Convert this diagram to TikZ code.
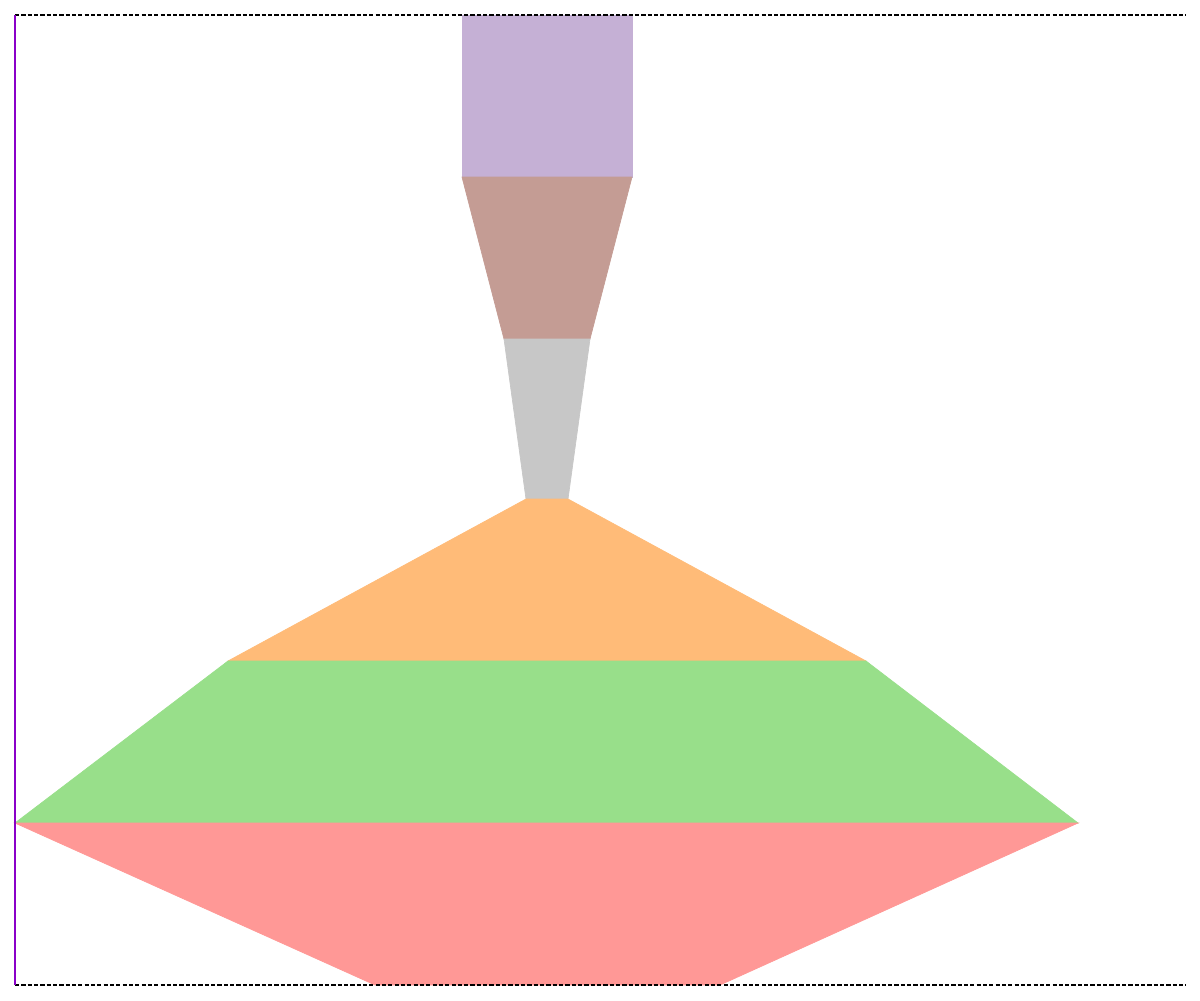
\documentclass[tikz,border=0pt]{standalone}
\usepackage{xcolor}
\usepackage{tikz}
\usetikzlibrary{calc}

\definecolor{lvpurple}{HTML}{C5B0D5}
\definecolor{lvbrown}{HTML}{C49C94}
\definecolor{lvgrey}{HTML}{C7C7C7}
\definecolor{lvorange}{HTML}{FFBB78}
\definecolor{lvgreen}{HTML}{98DF8A}
\definecolor{lvred}{HTML}{FF9896}
\definecolor{axisviolet}{HTML}{8A00C8}

\begin{document}
\begin{tikzpicture}[
  x=0.1mm, y=-0.1mm,
  layer/.style={draw=#1, line width=0.2pt, fill=#1},
  rim/.style={line width=0.3pt, dash pattern=on 1.2pt off 0.6pt},
]
\useasboundingbox (0,0) rectangle (1200,1000);

% funnel layers, top to bottom
\path[layer=lvpurple] (462,15) -- (632,15) -- (632,177) -- (462,177) -- cycle;
\path[layer=lvbrown]  (462,177) -- (632,177) -- (590,339) -- (504,339) -- cycle;
\path[layer=lvgrey]   (504,339) -- (590,339) -- (568,499) -- (526,499) -- cycle;
\path[layer=lvorange] (526,499) -- (568,499) -- (866,661) -- (228,661) -- cycle;
\path[layer=lvgreen]  (228,661) -- (866,661) -- (1078,823) -- (15,823) -- cycle;
\path[layer=lvred]    (15,823) -- (1078,823) -- (720,985) -- (375,985) -- cycle;

% frame
\draw[rim] (15,15) -- (1186,15);
\draw[rim] (15,985) -- (1186,985);
\draw[line width=0.35pt, axisviolet] (15,15) -- (15,985);
\end{tikzpicture}
\end{document}
